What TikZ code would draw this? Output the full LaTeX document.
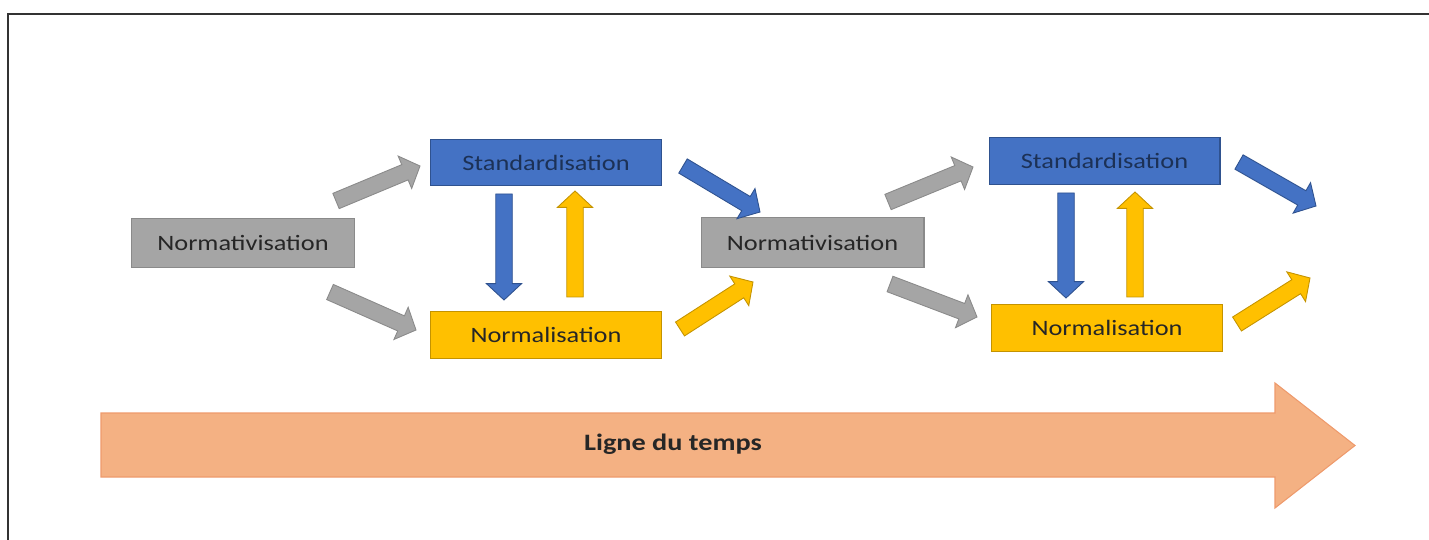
\documentclass[tikz,border=0pt]{standalone}
\usepackage{fontspec}
\setmainfont{Carlito}[FakeStretch=1.2]
\usetikzlibrary{calc}

\definecolor{GrisFond}{HTML}{A5A5A5}
\definecolor{GrisBord}{HTML}{8A8A8A}
\definecolor{BleuFond}{HTML}{4472C4}
\definecolor{BleuBord}{HTML}{2F528F}
\definecolor{JauneFond}{HTML}{FFC000}
\definecolor{JauneBord}{HTML}{C49300}
\definecolor{SaumonFond}{HTML}{F4B183}
\definecolor{SaumonBord}{HTML}{EE9A6C}
\colorlet{TexteBoite}{black!85}

\tikzset{
    boite/.style={draw, line width=0.6pt, inner sep=0pt,
        font=\fontsize{12.5}{14}\selectfont},
    boite gris/.style={boite, fill=GrisFond, draw=GrisBord, text=TexteBoite,
        minimum width=4.46cm, minimum height=0.99cm},
    boite bleu/.style={boite, fill=BleuFond, draw=BleuBord, text=BleuBord!60!black,
        minimum width=4.62cm, minimum height=0.93cm},
    boite jaune/.style={boite, fill=JauneFond, draw=JauneBord, text=TexteBoite,
        minimum width=4.62cm, minimum height=0.95cm},
    fleche/.style={line width=0.5pt, line join=miter, to path={
        ($(\tikztotarget)!9.3pt!(\tikztostart)$) coordinate (hb)
        ($(\tikztostart)!4.7pt!90:(\tikztotarget)$) --
        ($(hb)!4.7pt!90:(\tikztotarget)$) --
        ($(hb)!10pt!90:(\tikztotarget)$) --
        (\tikztotarget) --
        ($(hb)!10pt!-90:(\tikztotarget)$) --
        ($(hb)!4.7pt!-90:(\tikztotarget)$) --
        ($(\tikztostart)!4.7pt!-90:(\tikztotarget)$) -- cycle
    }},
    fleche gris/.style={fleche, fill=GrisFond, draw=GrisBord},
    fleche bleu/.style={fleche, fill=BleuFond, draw=BleuBord},
    fleche jaune/.style={fleche, fill=JauneFond, draw=JauneBord}
}

\begin{document}
\begin{tikzpicture}[x=0.02cm, y=-0.02cm]

\useasboundingbox (0,0) rectangle (1429,540);

% Cadre
\draw[black!80, line width=1.1pt] (1429,14) -- (8,14) -- (8,540);

% Boites
\node[boite gris]  (nvt1) at (243,243)     {Normativisation};
\node[boite bleu]  (std1) at (546,162.5)   {Standardisation};
\node[boite jaune] (nrm1) at (546,335)     {Normalisation};
\node[boite gris]  (nvt2) at (812.5,242.5) {Normativisation};
\node[boite bleu]  (std2) at (1104.5,161)  {Standardisation};
\node[boite jaune] (nrm2) at (1107,328)    {Normalisation};

% Extremites des fleches
\coordinate (g1a) at (336,201);  \coordinate (g1b) at (420,166);
\coordinate (g2a) at (330,292);  \coordinate (g2b) at (416,330);
\coordinate (b1a) at (504,194);  \coordinate (b1b) at (504,300);
\coordinate (j1a) at (575,297);  \coordinate (j1b) at (575,191);
\coordinate (b2a) at (683,166);  \coordinate (b2b) at (760,212);
\coordinate (j2a) at (680,329);  \coordinate (j2b) at (753,282);
\coordinate (g3a) at (888,202);  \coordinate (g3b) at (973,167);
\coordinate (g4a) at (890,284);  \coordinate (g4b) at (977,317);
\coordinate (b3a) at (1066,193); \coordinate (b3b) at (1066,298);
\coordinate (j3a) at (1135,297); \coordinate (j3b) at (1135,192);
\coordinate (b4a) at (1239,162); \coordinate (b4b) at (1316,206);
\coordinate (j4a) at (1237,324); \coordinate (j4b) at (1310,278);

% Fleches
\draw[fleche gris]  (g1a) to (g1b);
\draw[fleche gris]  (g2a) to (g2b);
\draw[fleche bleu]  (b1a) to (b1b);
\draw[fleche jaune] (j1a) to (j1b);
\draw[fleche bleu]  (b2a) to (b2b);
\draw[fleche jaune] (j2a) to (j2b);
\draw[fleche gris]  (g3a) to (g3b);
\draw[fleche gris]  (g4a) to (g4b);
\draw[fleche bleu]  (b3a) to (b3b);
\draw[fleche jaune] (j3a) to (j3b);
\draw[fleche bleu]  (b4a) to (b4b);
\draw[fleche jaune] (j4a) to (j4b);

% Ligne du temps
\draw[fill=SaumonFond, draw=SaumonBord, line width=0.6pt]
(101,413) -- (1275,413) -- (1275,383) -- (1355,445.5) --
(1275,508) -- (1275,477) -- (101,477) -- cycle;
\node[font=\bfseries\fontsize{13.4}{15}\selectfont, text=black!85] (temps) at (673,444) {Ligne du temps};

\end{tikzpicture}
\end{document}
